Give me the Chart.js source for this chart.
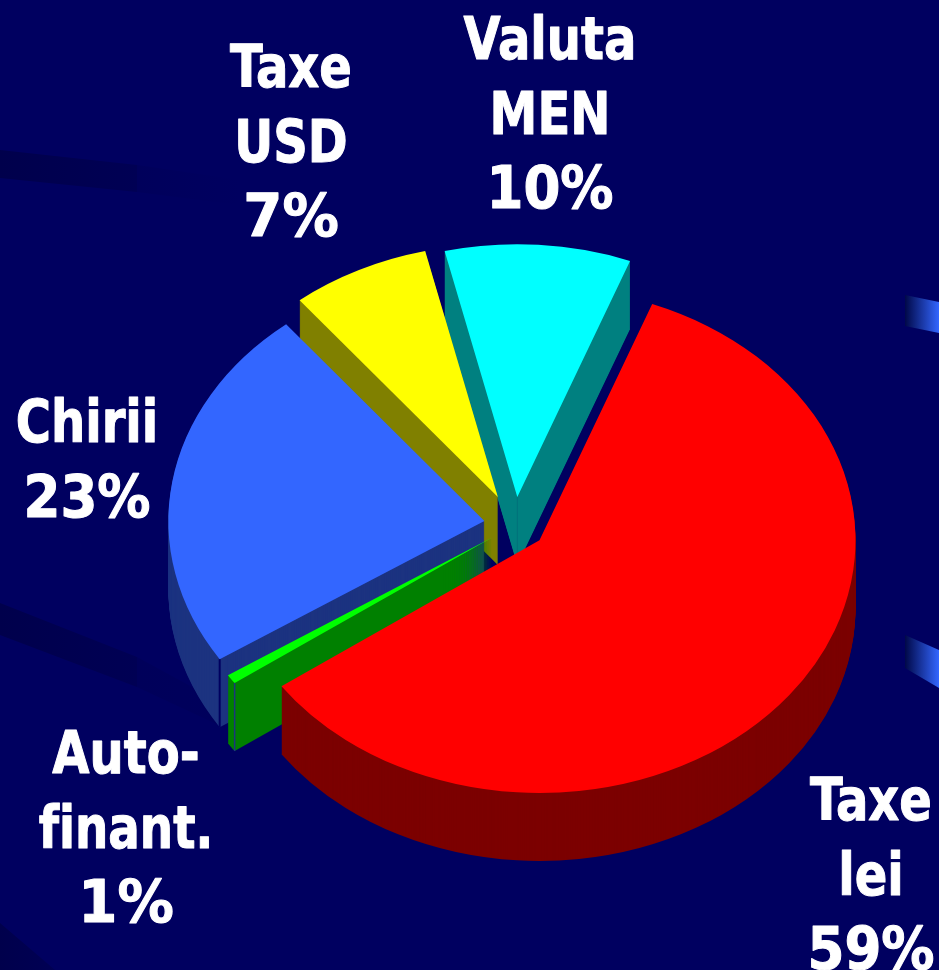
<!DOCTYPE html>
<html>
<head>
<meta charset="utf-8">
<style>
html,body{margin:0;padding:0;background:#000060;overflow:hidden}
#wrap{position:relative;width:939px;height:970px}
canvas{display:block}
</style>
<script src="https://cdn.jsdelivr.net/npm/chart.js@4/dist/chart.umd.min.js"></script>
</head>
<body>
<div id="wrap"><canvas id="c" width="939" height="970"></canvas></div>
<script>
// Data, starting at the top-left edge of the cyan slice and going clockwise
const categories = ['Valuta MEN', 'Taxe lei', 'Autofinant.', 'Chirii', 'Taxe USD'];
const values = [9.5, 59.4, 0.6, 23.4, 7.1];
const labelLines = [['Valuta', 'MEN'], ['Taxe', 'lei'], ['Auto-', 'finant.'], ['Chirii'], ['Taxe', 'USD']];

// Styling
const topColors = ['#00ffff', '#ff0000', '#00ff00', '#3366ff', '#ffff00'];
const sideColors = ['#008080', '#7c0000', '#008000', '#1c3380', '#808000'];
const paintOrder = [0, 4, 3, 2, 1];
const explodePx = [35, 31, 27, 31, 39];
const TILT = 0.8, DEPTH = 68;
const labelAnchors = [[550, 59], [871, 820], [126, 773], [87, 442], [291, 87]];
const LINE = 74.5;
const FONT = 'bold 59px "DejaVu Sans Condensed","DejaVu Sans",sans-serif';
const NAVY = '#000060';

function textSqueeze(t) {
  if (t.endsWith('%')) return t.length === 2 ? 1.06 : 1;
  return t === 'finant.' ? 0.88 : 0.905;
}

function band(ctx, pts, x0, x1, stops) {
  const g = ctx.createLinearGradient(x0, 0, x1, 0);
  stops.forEach(s => g.addColorStop(s[0], s[1]));
  ctx.fillStyle = g;
  ctx.beginPath();
  pts.forEach((p, i) => i ? ctx.lineTo(p[0], p[1]) : ctx.moveTo(p[0], p[1]));
  ctx.closePath();
  ctx.fill();
}

const backdrop = {
  id: 'backdrop',
  beforeDraw(chart) {
    const ctx = chart.ctx;
    ctx.save();
    ctx.fillStyle = NAVY;
    ctx.fillRect(0, 0, chart.width, chart.height);
    const dark = [[0, '#00004c'], [1, '#000054']];
    band(ctx, [[0, 150], [137, 165], [137, 192], [0, 178]], 0, 137, dark);
    band(ctx, [[137, 165], [240, 180], [240, 205], [137, 192]], 137, 240, [[0, '#00005b'], [1, '#000060']]);
    band(ctx, [[0, 603], [137, 657], [137, 687], [0, 635]], 0, 137, dark);
    band(ctx, [[137, 657], [225, 705], [225, 728], [137, 687]], 137, 225, [[0, '#00005a'], [1, '#00005c']]);
    band(ctx, [[0, 923], [55, 970], [0, 970]], 0, 55, dark);
    band(ctx, [[905, 295], [939, 302], [939, 333], [905, 326]], 905, 939, [[0, '#000848'], [1, '#3366ff']]);
    band(ctx, [[905, 635], [939, 650], [939, 688], [905, 668]], 905, 939, [[0, '#000848'], [1, '#3366ff']]);
    ctx.restore();
  }
};

function sideOptions(color) {
  return {backgroundColor: color, borderColor: color, borderWidth: 0, borderAlign: 'center',
    borderRadius: 0, borderDash: [], borderDashOffset: 0, borderJoinStyle: 'round',
    offset: 0, spacing: 0, circular: true, selfJoin: false};
}

const pie3d = {
  id: 'pie3d',
  beforeDatasetsDraw(chart) {
    const ctx = chart.ctx;
    const arcs = chart.getDatasetMeta(0).data;
    paintOrder.forEach(i => {
      const arc = arcs[i];
      const mid = (arc.startAngle + arc.endAngle) / 2;
      const dx = Math.cos(mid) * explodePx[i];
      const dy = Math.sin(mid) * explodePx[i];
      const place = d => {
        ctx.translate(arc.x, arc.y + d);
        ctx.scale(1, TILT);
        ctx.translate(-arc.x + dx, -arc.y + dy);
      };
      const own = arc.options;
      arc.options = sideOptions(sideColors[i]);
      for (let d = DEPTH; d >= 1; d--) {
        ctx.save(); place(d); arc.draw(ctx); ctx.restore();
      }
      arc.options = own;
      ctx.save(); place(0); arc.draw(ctx); ctx.restore();

      // Thin creases on the walls, taken from the slice's own geometry
      const apexX = arc.x + dx, apexY = arc.y + dy * TILT;
      const cornerX = apexX + Math.cos(arc.startAngle) * arc.outerRadius;
      const cornerY = apexY + Math.sin(arc.startAngle) * arc.outerRadius * TILT;
      const crease = (x, y, color, w) => {
        ctx.save();
        ctx.strokeStyle = color;
        ctx.lineWidth = w;
        ctx.beginPath();
        ctx.moveTo(x, y);
        ctx.lineTo(x, y + DEPTH);
        ctx.stroke();
        ctx.restore();
      };
      if (i === 0) crease(apexX, apexY, '#00707a', 1);
      if (i === 3) crease(cornerX, cornerY, NAVY, 2);
      if (i === 2) crease(cornerX, cornerY, '#1c3380', 1.5);
    });
    // Data labels
    ctx.save();
    ctx.font = FONT;
    ctx.letterSpacing = '0.01px';
    ctx.fillStyle = '#ffffff';
    ctx.strokeStyle = '#ffffff';
    ctx.lineWidth = 1;
    ctx.lineJoin = 'round';
    ctx.textAlign = 'center';
    ctx.textBaseline = 'alphabetic';
    categories.forEach((c, i) => {
      const lines = labelLines[i].concat(Math.round(values[i]) + '%');
      lines.forEach((t, k) => {
        ctx.save();
        ctx.translate(labelAnchors[i][0], labelAnchors[i][1] + k * LINE);
        ctx.scale(textSqueeze(t), 1);
        ctx.fillText(t, 0, 0);
        ctx.strokeText(t, 0, 0);
        ctx.restore();
      });
    });
    ctx.restore();
    return false;
  }
};

new Chart(document.getElementById('c'), {
  type: 'pie',
  data: {
    labels: categories,
    datasets: [{data: values, backgroundColor: topColors, borderWidth: 0}]
  },
  options: {
    responsive: false,
    animation: false,
    rotation: -13.3,
    layout: {padding: {left: 199, right: 108, top: 209, bottom: 129}},
    plugins: {legend: {display: false}, tooltip: {enabled: false}}
  },
  plugins: [backdrop, pie3d]
});
</script>
</body>
</html>
